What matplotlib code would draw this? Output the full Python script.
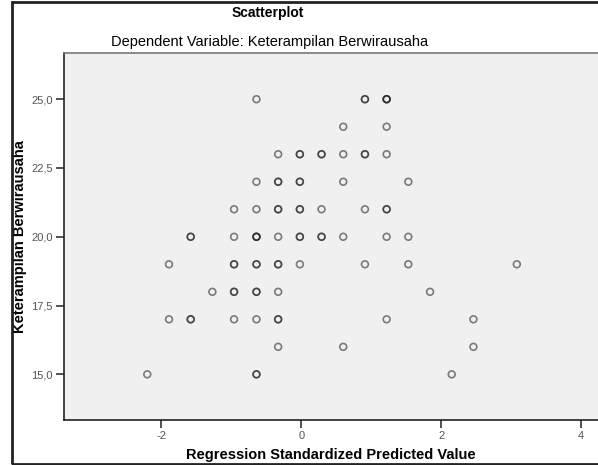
import numpy as np
import matplotlib
matplotlib.use("Agg")
import matplotlib.pyplot as plt
from matplotlib.patches import Rectangle
from matplotlib.ticker import FuncFormatter

plt.rcParams['font.family'] = ['Liberation Sans', 'DejaVu Sans']
plt.rcParams['axes.unicode_minus'] = False

# nilai prediksi terstandar, skor, dan jumlah titik yang bertumpuk
pred = [-0.64, 0.91, 1.22,
        0.60, 1.22,
        -0.33, -0.02, 0.29, 0.60, 0.91, 1.22,
        -0.64, -0.33, -0.02, 0.60, 1.53,
        -0.96, -0.64, -0.33, -0.02, 0.29, 0.91, 1.22,
        -1.58, -0.96, -0.64, -0.33, -0.02, 0.29, 0.60, 1.22, 1.53,
        -1.89, -0.96, -0.64, -0.33, -0.02, 0.91, 1.53, 3.08,
        -1.27, -0.96, -0.64, -0.33, 1.84,
        -1.89, -1.58, -0.96, -0.64, -0.33, 1.22, 2.46,
        -0.33, 0.60, 2.46,
        -2.20, -0.64, 2.15]
score = [25, 25, 25,
         24, 24,
         23, 23, 23, 23, 23, 23,
         22, 22, 22, 22, 22,
         21, 21, 21, 21, 21, 21, 21,
         20, 20, 20, 20, 20, 20, 20, 20, 20,
         19, 19, 19, 19, 19, 19, 19, 19,
         18, 18, 18, 18, 18,
         17, 17, 17, 17, 17, 17, 17,
         16, 16, 16,
         15, 15, 15]
count = [1, 2, 3,
         1, 1,
         1, 2, 2, 1, 2, 1,
         1, 2, 2, 1, 1,
         1, 1, 2, 2, 1, 1, 2,
         2, 1, 3, 1, 2, 2, 1, 1, 1,
         1, 2, 2, 2, 1, 1, 1, 1,
         1, 2, 2, 1, 1,
         1, 2, 1, 1, 2, 1, 1,
         1, 1, 1,
         1, 2, 1]

y_ticks = [15.0, 17.5, 20.0, 22.5, 25.0]
x_ticks = [-2, 0, 2, 4]

x = np.repeat(pred, count)
y = np.repeat(score, count)

fig = plt.figure(figsize=(5.98, 4.65), dpi=100)
ax = fig.add_axes([64 / 598, 45 / 465, 1 - 64 / 598, 367 / 465])
ax.set_facecolor('#f0f0f0')

ax.scatter(x, y, s=24, facecolors='none', edgecolors=(0.1, 0.1, 0.1, 0.55),
           linewidths=1.2, zorder=3)

ax.set_xlim(-3.39, 4.24)
ax.set_ylim(13.34, 26.68)
ax.set_xticks(x_ticks)
ax.set_yticks(y_ticks)
ax.yaxis.set_major_formatter(FuncFormatter(lambda v, p: f"{v:.1f}".replace('.', ',')))
ax.tick_params(direction='out', length=6, width=1.2, color='#333333',
               labelsize=8, labelcolor='#555555', pad=2)

for side in ['left', 'bottom']:
    ax.spines[side].set_color('#222222')
    ax.spines[side].set_linewidth(1.2)
ax.spines['top'].set_color('#777777')
ax.spines['top'].set_linewidth(1.2)
ax.spines['right'].set_visible(False)

ax.set_xlabel('Regression Standardized Predicted Value', fontsize=10.5,
              fontweight='bold', labelpad=5)
ax.set_ylabel('Keterampilan Berwirausaha', fontsize=10.5, fontweight='bold',
              labelpad=3)

fig.text(268 / 598, 1 - 13 / 465, 'Scatterplot', ha='center', va='center',
         fontsize=10, fontweight='bold')
fig.text(270 / 598, 1 - 42 / 465, 'Dependent Variable: Keterampilan Berwirausaha',
         ha='center', va='center', fontsize=10.5)

# bingkai luar
fig.patches.append(Rectangle((12 / 598, 1.5 / 465), 1.0, 461 / 465,
                             transform=fig.transFigure, fill=False,
                             edgecolor='#222222', linewidth=2))

fig.savefig('out.png', dpi=100)
